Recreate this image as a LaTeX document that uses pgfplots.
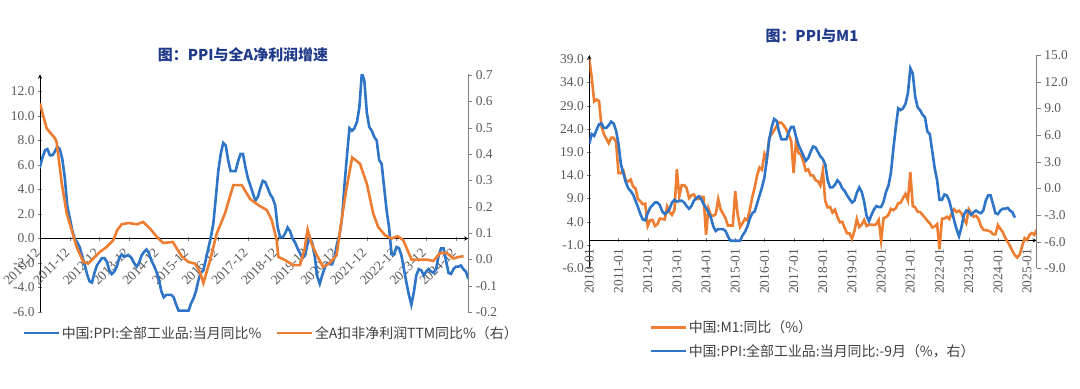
\documentclass[border=0pt]{standalone}
\usepackage{pgfplots}
\pgfplotsset{compat=1.18}
\usepackage{pgfplotstable}
\usepackage{fontspec}
\setmainfont{Liberation Serif}
\newfontfamily\cjk{Noto Sans CJK SC}
\definecolor{ppiblue}{RGB}{46,117,200}
\definecolor{m1orange}{RGB}{237,125,49}
\definecolor{titleblue}{RGB}{32,58,138}
\definecolor{ticktext}{RGB}{89,89,89}
\definecolor{legtext}{RGB}{64,64,64}
\definecolor{raxis}{RGB}{128,128,128}

% PPI YoY, m = months since 2010-01
\pgfplotstableread{
m v
9 5.0
10 6.1
11 5.9
12 6.6
13 7.2
14 7.3
15 6.8
16 6.8
17 7.1
18 7.5
19 7.3
20 6.5
21 5.0
22 2.7
23 1.7
24 0.7
25 0.0
26 -0.3
27 -0.7
28 -1.4
29 -2.1
30 -2.9
31 -3.5
32 -3.6
33 -2.8
34 -2.2
35 -1.9
36 -1.6
37 -1.6
38 -1.9
39 -2.6
40 -2.9
41 -2.7
42 -2.3
43 -1.6
44 -1.3
45 -1.5
46 -1.4
47 -1.4
48 -1.6
49 -2.0
50 -2.3
51 -2.0
52 -1.4
53 -1.1
54 -0.9
55 -1.2
56 -1.8
57 -2.2
58 -2.7
59 -3.3
60 -4.3
61 -4.8
62 -4.6
63 -4.6
64 -4.6
65 -4.8
66 -5.4
67 -5.9
68 -5.9
69 -5.9
70 -5.9
71 -5.9
72 -5.3
73 -4.9
74 -4.3
75 -3.4
76 -2.8
77 -2.6
78 -1.7
79 -0.8
80 0.1
81 1.2
82 3.3
83 5.5
84 6.9
85 7.8
86 7.6
87 6.4
88 5.5
89 5.5
90 5.5
91 6.3
92 6.9
93 6.9
94 5.8
95 4.9
96 4.3
97 3.7
98 3.1
99 3.4
100 4.1
101 4.7
102 4.6
103 4.1
104 3.6
105 3.3
106 2.7
107 0.9
108 0.1
109 0.1
110 0.4
111 0.9
112 0.6
113 0.0
114 -0.3
115 -0.8
116 -1.2
117 -1.6
118 -1.4
119 -0.5
120 0.1
121 -0.4
122 -1.5
123 -3.1
124 -3.7
125 -3.0
126 -2.4
127 -2.0
128 -2.1
129 -2.1
130 -1.5
131 -0.4
132 0.3
133 1.7
134 4.4
135 6.8
136 9.0
137 8.8
138 9.0
139 9.5
140 10.7
141 13.5
142 12.9
143 10.3
144 9.1
145 8.8
146 8.3
147 8.0
148 6.4
149 6.1
150 4.2
151 2.3
152 0.9
153 -1.3
154 -1.3
155 -0.7
156 -0.8
157 -1.4
158 -2.5
159 -3.6
160 -4.6
161 -5.4
162 -4.4
163 -3.0
164 -2.5
165 -2.6
166 -3.0
167 -2.7
168 -2.5
169 -2.7
170 -2.8
171 -2.5
172 -1.4
173 -0.8
174 -0.8
175 -1.8
176 -2.8
177 -2.9
178 -2.5
179 -2.3
180 -2.3
181 -2.2
182 -2.5
183 -2.7
184 -3.3
}\ppi

% M1 YoY
\pgfplotstableread{
m v
0 39.0
1 35.0
2 29.9
3 30.3
4 30.0
5 24.6
6 22.9
7 21.9
8 20.9
9 22.1
10 22.1
11 21.2
12 14.5
13 14.5
14 15.0
15 12.9
16 12.7
17 13.1
18 11.6
19 11.2
20 8.9
21 8.4
22 7.8
23 7.9
24 3.1
25 4.3
26 4.4
27 3.1
28 3.5
29 4.7
30 4.6
31 4.5
32 7.3
33 6.1
34 5.5
35 6.5
36 15.3
37 9.5
38 11.9
39 11.9
40 11.3
41 9.1
42 9.7
43 9.9
44 8.9
45 8.9
46 9.4
47 9.3
48 1.2
49 6.9
50 5.4
51 5.3
52 5.7
53 8.9
54 6.7
55 5.7
56 4.8
57 3.2
58 3.2
59 3.2
60 10.6
61 5.6
62 2.9
63 3.7
64 4.7
65 4.3
66 6.6
67 9.3
68 11.4
69 14.0
70 15.7
71 15.2
72 18.6
73 17.4
74 22.1
75 22.9
76 23.7
77 24.6
78 25.4
79 25.3
80 24.7
81 23.9
82 22.7
83 21.4
84 14.5
85 21.4
86 18.8
87 18.5
88 17.0
89 15.0
90 15.3
91 14.0
92 14.0
93 13.0
94 12.7
95 11.8
96 15.0
97 8.5
98 7.1
99 7.2
100 6.0
101 6.6
102 5.1
103 3.9
104 4.0
105 2.7
106 1.5
107 1.5
108 0.4
109 2.0
110 4.6
111 2.9
112 3.4
113 4.4
114 3.1
115 3.4
116 3.4
117 3.3
118 3.5
119 4.4
120 0.0
121 4.8
122 5.0
123 5.5
124 6.8
125 6.5
126 6.9
127 8.0
128 8.1
129 9.1
130 10.0
131 8.6
132 14.7
133 7.4
134 7.1
135 6.2
136 6.1
137 5.5
138 4.9
139 4.2
140 3.7
141 2.8
142 3.0
143 3.5
144 -1.9
145 4.7
146 4.7
147 5.1
148 4.6
149 5.8
150 6.7
151 6.1
152 6.4
153 5.8
154 4.6
155 3.7
156 6.7
157 5.8
158 5.1
159 5.3
160 4.7
161 3.1
162 2.3
163 2.2
164 2.1
165 1.9
166 1.3
167 1.3
168 3.3
169 2.5
170 1.8
171 0.6
172 -0.3
173 -1.2
174 -2.3
175 -3.2
176 -3.7
177 -3.0
178 -1.2
179 0.5
180 0.1
181 1.2
182 1.6
183 1.2
184 2.4
}\mone

% All-A non-recurring net profit TTM YoY
\pgfplotstableread{
m v
11 0.592
13.7 0.497
17.1 0.459
17.7 0.446
19.8 0.288
21.8 0.174
23.8 0.111
25.8 0.047
28.5 -0.010
30.5 -0.016
32.5 0.003
35.2 0.028
37.9 0.047
40.6 0.073
42.2 0.111
44.0 0.133
46.7 0.138
50.1 0.133
52.7 0.142
55.4 0.117
58.8 0.079
60.8 0.062
64.6 0.066
68.2 0.012
70.9 -0.010
73.6 -0.016
75.6 -0.048
77.0 -0.090
79.7 -0.003
82.4 0.098
85.7 0.174
89.1 0.282
92.5 0.282
95.8 0.230
99.2 0.206
102.6 0.187
104.6 0.149
106.6 0.073
107.3 0.009
110 -0.003
113.3 -0.022
116 -0.022
117.8 0.035
119.1 0.113
120.7 0.060
122.8 0.016
125.4 -0.029
128.1 -0.014
130.8 0.016
132.8 0.149
134.9 0.275
137.1 0.387
140.2 0.364
143 0.288
145.6 0.174
147.6 0.123
150.3 0.092
153 0.079
155.5 0.088
157.7 0.073
161.1 -0.001
164.5 -0.001
167.2 -0.001
169.9 -0.006
172.6 0.024
175.3 0.024
178 0.003
180 0.009
182.1 0.012
}\prof

\pgfplotsset{
  /pgf/number format/assume math mode=true,
  base/.style={
    scale only axis, anchor=south west, clip=true,
    tick label style={font=\fontsize{13.5}{15}\selectfont, text=ticktext},
    major tick length=4bp,
    tick align=outside,
    hide obscured x ticks=false, hide obscured y ticks=false,
    y tick label style={/pgf/number format/.cd, fixed, fixed zerofill, precision=1, /tikz/.cd},
    axis line style={-, line width=0.9bp},
  },
  leg/.style={
    legend style={draw=none, fill=none, inner sep=0pt,
      font=\cjk\fontsize{14}{16}\selectfont, text=legtext},
    legend cell align=left,
    legend image code/.code={\draw[##1] (0bp,0bp) -- (35bp,0bp);},
  },
}

\begin{document}
\begin{tikzpicture}
\useasboundingbox (0,0) rectangle (1080bp,389bp);

\node[font=\cjk\bfseries\fontsize{15}{18}\selectfont, text=titleblue] at (243bp,334bp) {图：PPI与全A净利润增速};
\node[font=\cjk\bfseries\fontsize{15}{18}\selectfont, text=titleblue] at (812bp,353bp) {图：PPI与M1};

% ---------- left chart ----------
\begin{axis}[base, at={(40bp,77bp)}, width=428.3bp, height=237.5bp,
  xmin=11, xmax=184, ymin=-6, ymax=13.39,
  axis x line=middle, axis y line=left,
  xtick={11,23,35,47,59,71,83,95,107,119,131,143,155,167,179},
  xticklabels={2010-12,2011-12,2012-12,2013-12,2014-12,2015-12,2016-12,2017-12,2018-12,2019-12,2020-12,2021-12,2022-12,2023-12,2024-12},
  xticklabel style={yshift=-8bp, rotate=45, anchor=east},
  ytick={-6,-4,-2,0,2,4,6,8,10,12},
]
\addplot[ppiblue, line width=2.6bp] table[x=m,y=v]{\ppi};
\end{axis}
\begin{axis}[base, leg, at={(40bp,77bp)}, width=428.3bp, height=237.5bp,
  xmin=11, xmax=184, ymin=-0.2, ymax=0.702,
  axis x line=none, axis y line*=right,
  y axis line style={draw=raxis},
  ytick={-0.2,-0.1,0,0.1,0.2,0.3,0.4,0.5,0.6,0.7},
  ytick style={draw=raxis},
  legend columns=2,
  legend style={at={(-0.042,-0.088)}, anchor=west,
    /tikz/every even column/.append style={column sep=12bp}},
]
\addlegendimage{ppiblue, line width=2.6bp}
\addlegendentry{中国:PPI:全部工业品:当月同比\%}
\addplot[m1orange, line width=2.6bp] table[x=m,y=v]{\prof};
\addlegendentry{全A扣非净利润TTM同比\%（右）}
\end{axis}

% ---------- right chart ----------
\begin{axis}[base, at={(589.3bp,120.7bp)}, width=447.5bp, height=213.3bp,
  xmin=0, xmax=184, ymin=-6, ymax=39.9,
  axis x line=middle, axis y line=left,
  xtick={0,12,24,36,48,60,72,84,96,108,120,132,144,156,168,180},
  xticklabels={2010-01,2011-01,2012-01,2013-01,2014-01,2015-01,2016-01,2017-01,2018-01,2019-01,2020-01,2021-01,2022-01,2023-01,2024-01,2025-01},
  xticklabel style={yshift=-3bp, rotate=90, anchor=east},
  ytick={-6,-1,4,9,14,19,24,29,34,39},
]
\addplot[m1orange, line width=2.6bp] table[x=m,y=v]{\mone};
\end{axis}
\begin{axis}[base, leg, at={(589.3bp,120.7bp)}, width=447.5bp, height=213.3bp,
  xmin=0, xmax=184, ymin=-9, ymax=15,
  axis x line=none, axis y line*=right,
  y axis line style={draw=raxis},
  ytick={-9,-6,-3,0,3,6,9,12,15},
  ytick style={draw=raxis},
  legend columns=1,
  legend style={at={(0.1334,-0.333)}, anchor=west, row sep=6bp},
]
\addlegendimage{m1orange, line width=2.6bp}
\addlegendentry{中国:M1:同比（\%）}
\addplot[ppiblue, line width=2.6bp] table[x expr=\thisrow{m}-9,y=v]{\ppi};
\addlegendentry{中国:PPI:全部工业品:当月同比:-9月（\%，右）}
\end{axis}
\end{tikzpicture}
\end{document}
